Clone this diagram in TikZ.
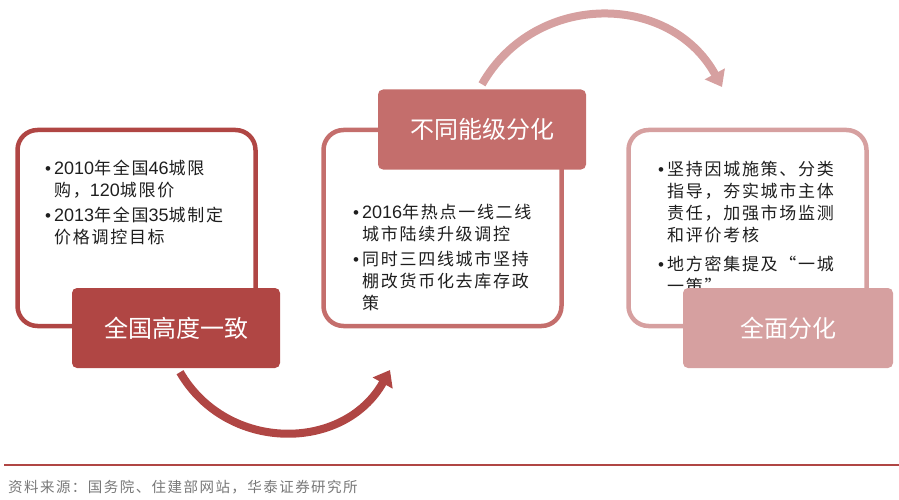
\documentclass[tikz,border=0pt]{standalone}
\usepackage{fontspec}
\setmainfont{Noto Sans CJK SC}
\newfontfamily\bodyfont[LetterSpace=10]{Noto Sans CJK SC}
\newfontfamily\tagfont{Noto Sans CJK SC}
\newfontfamily\digitfont{Liberation Sans}
\usetikzlibrary{arrows.meta,calc}
\definecolor{rustred}{RGB}{176,70,68}
\definecolor{midrose}{RGB}{196,110,108}
\definecolor{palerose}{RGB}{214,160,160}
\definecolor{ink}{RGB}{30,30,30}
\definecolor{srcgray}{RGB}{120,120,120}
\newcommand{\itemdot}{\makebox[9pt][l]{\digitfont\fontsize{17}{17}\selectfont •}}
\newcommand{\itemind}{\hspace*{9pt}}
\newcommand{\lat}[1]{{\digitfont\fontsize{18}{22}\selectfont #1}}
\tikzset{
  panel/.style={draw=#1,line width=4.5pt,rounded corners=20pt,minimum width=238pt,minimum height=196pt,inner sep=0pt},
  tag/.style={fill=#1,rounded corners=5pt,minimum width=208pt,minimum height=80pt,inner sep=0pt,text=white,font=\tagfont\fontsize{24}{24}\selectfont},
  note/.style={anchor=north west,inner sep=0pt,align=left,text=ink,font=\bodyfont\fontsize{17}{22}\selectfont},
  swing/.style={draw=#1,line width=8pt,-{Triangle[length=15pt,width=22pt]}},
  rule/.style={draw=rustred,line width=2.5pt},
  source/.style={anchor=west,inner sep=0pt,text=srcgray,font=\bodyfont\fontsize{14.5}{16}\selectfont}
}
\begin{document}
\begin{tikzpicture}[x=1pt,y=-1pt]
\useasboundingbox (0,0) rectangle (899,500);
% outline panels
\node[panel=rustred] (panelA) at (136.5,228) {};
\node[panel=midrose] (panelB) at (442.5,228) {};
\node[panel=palerose] (panelC) at (747.5,228) {};
% bullet texts
\node[note] (noteA) at (45,160) {\itemdot\lat{2010}年全国\lat{46}城限\\ \itemind 购，\lat{120}城限价\\[3pt]
  \itemdot\lat{2013}年全国\lat{35}城制定\\ \itemind 价格调控目标};
\node[note] (noteB) at (353,204) {\itemdot\lat{2016}年热点一线二线\\ \itemind 城市陆续升级调控\\[3pt]
  \itemdot 同时三四线城市坚持\\ \itemind 棚改货币化去库存政\\ \itemind 策};
\node[note] (noteC) at (658,161) {\itemdot 坚持因城施策、分类\\ \itemind 指导，夯实城市主体\\
  \itemind 责任，加强市场监测\\ \itemind 和评价考核\\[7pt]
  \itemdot 地方密集提及“一城\\ \itemind 一策”};
% stage labels
\node[tag=rustred] (tagA) at (176,328) {全国高度一致};
\node[tag=midrose] (tagB) at (482,129.5) {不同能级分化};
\node[tag=palerose,minimum width=210pt] (tagC) at (788,328) {全面分化};
% curved arrows
\coordinate (landB) at (390,370);
\coordinate (landC) at (722,87);
\draw[swing=rustred] ($(tagA.south)+(4,4)$) .. controls (227,453) and (344,452) .. (landB);
\draw[swing=palerose] ($(tagB.north)+(0,-5)$) .. controls (535,-9) and (670,-8) .. (landC);
% footer
\draw[rule] (4,465) -- (899,465);
\node[source] (src) at (8,487) {资料来源：国务院、住建部网站，华泰证券研究所};
\end{tikzpicture}
\end{document}
